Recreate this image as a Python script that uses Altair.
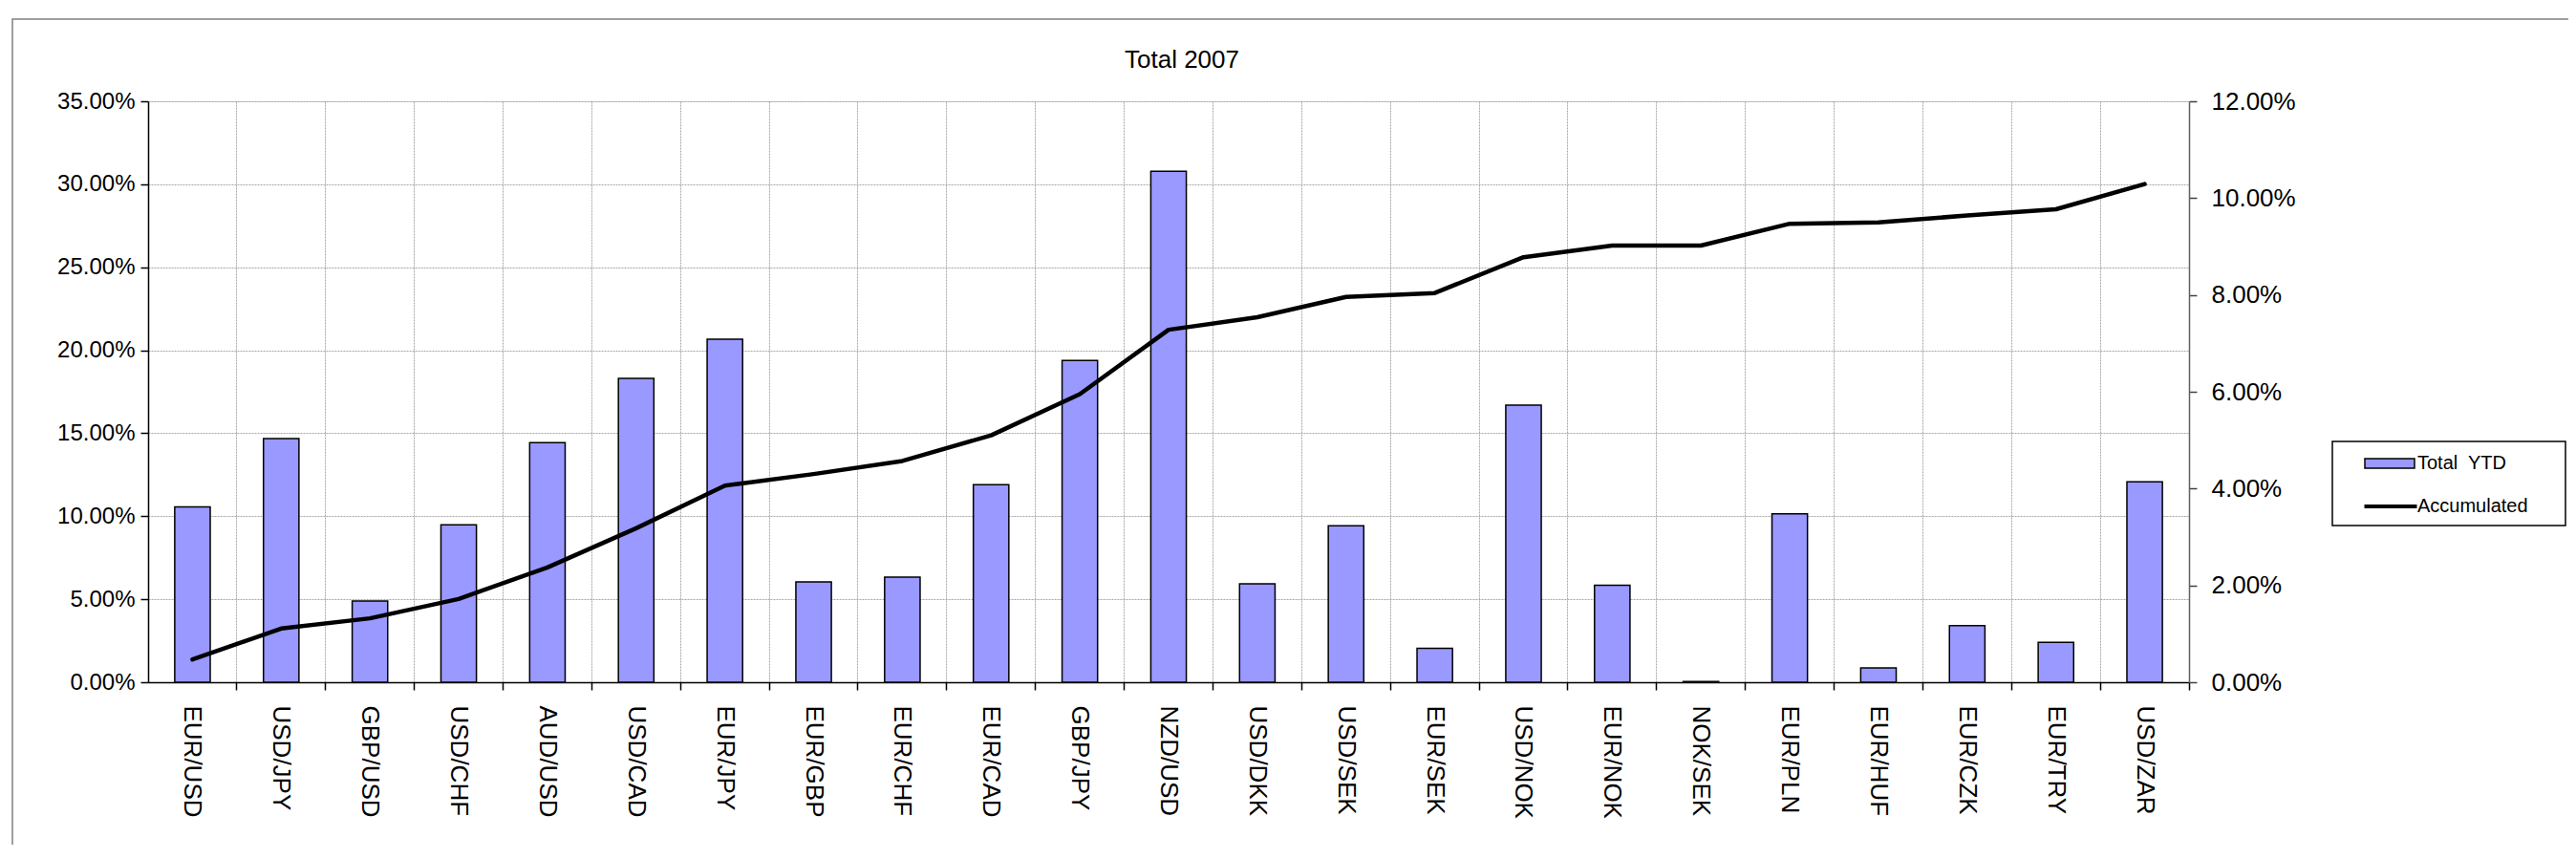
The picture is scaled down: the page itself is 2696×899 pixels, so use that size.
import altair as alt
import pandas as pd

pairs = ["EUR/USD", "USD/JPY", "GBP/USD", "USD/CHF", "AUD/USD", "USD/CAD", "EUR/JPY",
         "EUR/GBP", "EUR/CHF", "EUR/CAD", "GBP/JPY", "NZD/USD", "USD/DKK", "USD/SEK",
         "EUR/SEK", "USD/NOK", "EUR/NOK", "NOK/SEK", "EUR/PLN", "EUR/HUF", "EUR/CZK",
         "EUR/TRY", "USD/ZAR"]
total_ytd_pct = [10.57, 14.68, 4.89, 9.48, 14.43, 18.31, 20.67, 6.04, 6.33, 11.90, 19.38,
                 30.79, 5.93, 9.43, 2.05, 16.69, 5.85, 0.05, 10.14, 0.87, 3.41, 2.41, 12.08]
accumulated_pct = [0.47, 1.11, 1.32, 1.72, 2.37, 3.18, 4.06, 4.30, 4.57, 5.10, 5.95,
                   7.28, 7.54, 7.96, 8.04, 8.78, 9.02, 9.02, 9.47, 9.50, 9.64, 9.77, 10.29]
left_ticks = [0, 0.05, 0.10, 0.15, 0.20, 0.25, 0.30, 0.35]
right_ticks = [0, 0.02, 0.04, 0.06, 0.08, 0.10, 0.12]
bar_series = "Total  YTD"
line_series = "Accumulated"
bar_color = "#9999FF"
line_color = "#000000"

df = pd.DataFrame({
    "pair": pairs,
    "ytd": [v / 100 for v in total_ytd_pct],
    "acc": [v / 100 for v in accumulated_pct],
})

FONT = "Liberation Sans"
NBSP = "\u00a0"

legend_bar = alt.Legend(
    orient="none", legendX=2286, legendY=356, title=None,
    padding=12,
    symbolType="M-2.6,-0.5H2.6V0.5H-2.6Z", symbolSize=400,
    symbolFillColor=bar_color, symbolStrokeColor="black", symbolStrokeWidth=1.5,
    symbolOpacity=1, symbolOffset=37, labelOffset=18,
    labelFont=FONT, labelFontSize=20, labelColor="black",
    labelExpr="replace(datum.label, '  ', '" + NBSP + " ')",
)
legend_line = alt.Legend(
    orient="none", legendX=2286, legendY=400, title=None,
    padding=12,
    symbolType="M-2.75,0H2.75", symbolSize=400,
    symbolStrokeColor="black", symbolStrokeWidth=4, symbolOpacity=1,
    symbolOffset=37, labelOffset=16,
    labelFont=FONT, labelFontSize=20, labelColor="black",
)

x_axis = alt.Axis(
    labelAngle=90, labelFont=FONT, labelFontSize=26, labelColor="black",
    labelPadding=16, tickSize=8, tickColor="black", tickWidth=1.5,
    domainColor="black", domainWidth=1.5,
    grid=True, gridColor="#a8a8a8", gridDash=[2, 1], gridWidth=1,
    bandPosition=1.75,
)
x_scale = alt.Scale(paddingInner=0.6, paddingOuter=0.3)

bars = alt.Chart(df).transform_calculate(series="'" + bar_series + "'").mark_bar(
    stroke="black", strokeWidth=1.5
).encode(
    x=alt.X("pair:N", sort=pairs, title=None, scale=x_scale, axis=x_axis),
    y=alt.Y(
        "ytd:Q", title=None,
        scale=alt.Scale(domain=[0, 0.35], nice=False, zero=True),
        axis=alt.Axis(
            values=left_ticks, format=".2%", orient="left",
            labelFont=FONT, labelFontSize=24, labelColor="black", labelPadding=6,
            tickSize=8, tickColor="black", tickWidth=1.5,
            domainColor="black", domainWidth=1.5,
            grid=True, gridColor="#a8a8a8", gridDash=[2, 1], gridWidth=1,
        ),
    ),
    fill=alt.Fill("series:N", scale=alt.Scale(domain=[bar_series], range=[bar_color]),
                  legend=legend_bar),
)

line = alt.Chart(df).transform_calculate(series="'" + line_series + "'").mark_line(
    strokeWidth=4.5, strokeCap="round", strokeJoin="round"
).encode(
    x=alt.X("pair:N", sort=pairs, title=None, scale=x_scale, axis=x_axis),
    y=alt.Y(
        "acc:Q", title=None,
        scale=alt.Scale(domain=[0, 0.12], nice=False, zero=True),
        axis=alt.Axis(
            values=right_ticks, format=".2%", orient="right",
            labelFont=FONT, labelFontSize=26, labelColor="black", labelPadding=15,
            tickSize=8, tickColor="#404040", tickWidth=1.5,
            domainColor="#606060", domainWidth=1.5, grid=False,
        ),
    ),
    stroke=alt.Stroke("series:N", scale=alt.Scale(domain=[line_series], range=[line_color]),
                      legend=legend_line),
)

frame = alt.Chart(pd.DataFrame({"k": [0]})).mark_rect(
    fillOpacity=0, stroke="#808080", strokeWidth=1.5, clip=False
).encode(
    x=alt.value(-142), x2=alt.value(2600), y=alt.value(-86), y2=alt.value(950)
)

legend_box = alt.Chart(pd.DataFrame({"k": [0]})).mark_rect(
    fillOpacity=0, stroke="black", strokeWidth=1.5, clip=False
).encode(
    x=alt.value(2286), x2=alt.value(2530), y=alt.value(356), y2=alt.value(444)
)

chart = alt.layer(bars, line, frame, legend_box).resolve_scale(y="independent").properties(
    width=2136, height=608,
    title=alt.TitleParams(
        "Total 2007", font=FONT, fontSize=26, fontWeight="normal", color="black",
        anchor="middle", dx=14, dy=78, offset=0, baseline="alphabetic",
    ),
    autosize=alt.AutoSizeParams(type="none"),
    padding={"left": 147, "top": 98, "right": 397, "bottom": 170},
).configure_view(stroke="#808080", strokeWidth=2).configure(background="white")

chart.save("out.html", embed_options={"renderer": "svg", "actions": False})
